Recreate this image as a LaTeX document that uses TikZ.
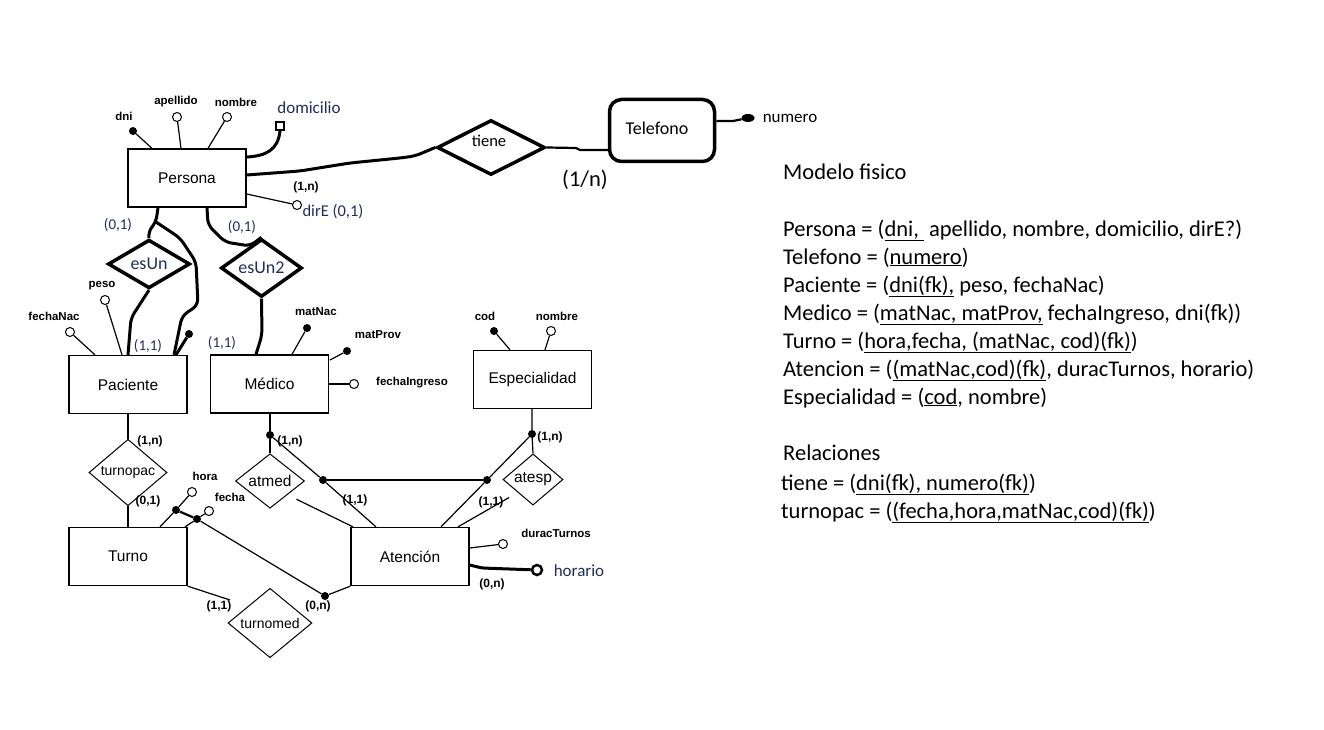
\documentclass[tikz,border=0pt]{standalone}
\usepackage{fontspec}
\setmainfont{Liberation Sans}
\newfontfamily\calfont{Carlito}
\usetikzlibrary{shapes.geometric}
\definecolor{labelblue}{RGB}{31,45,90}
\tikzset{
  entity/.style={draw,line width=1.3pt,minimum width=118pt,minimum height=58pt,font=\fontsize{15.5}{18}\selectfont},
  relation/.style={draw,diamond,line width=1pt,inner sep=0pt,font=\fontsize{14}{16}\selectfont},
  strongrel/.style={relation,line width=3.5pt,font=\calfont\fontsize{18}{21}\selectfont,text=labelblue},
  keyattr/.style={circle,fill,inner sep=0pt,minimum size=8pt},
  attr/.style={circle,draw,line width=1pt,fill=white,inner sep=0pt,minimum size=9pt},
  attrlabel/.style={font=\bfseries\fontsize{11.5}{13}\selectfont,inner sep=0pt},
  card/.style={font=\bfseries\fontsize{12}{14}\selectfont,inner sep=0pt},
  bluelabel/.style={font=\calfont\fontsize{17}{20}\selectfont,text=labelblue,inner sep=0pt},
  cardblue/.style={bluelabel,font=\calfont\fontsize{15}{18}\selectfont},
  link/.style={line width=1.2pt},
  thicklink/.style={line width=3pt,rounded corners=6pt},
  junction/.style={circle,fill,inner sep=0pt,minimum size=8pt},
  modeltext/.style={font=\calfont\fontsize{22.5}{27}\selectfont,anchor=base west,inner sep=0pt}
}
\begin{document}
\begin{tikzpicture}[x=1pt,y=-1pt]
%
\useasboundingbox (0,0) rectangle (1324,730);
%
% entidades
\node[entity] (persona) at (187,178) {Persona};
\node[draw,rounded corners=12pt,line width=3.5pt,minimum width=105pt,minimum height=62pt] (telefono) at (662,130.5) {};
\node[entity] (paciente) at (128,384.5) {Paciente};
\node[entity] (medico) at (269.5,384) {Médico};
\node[entity] (especialidad) at (532.5,379.5) {Especialidad};
\node[entity] (turno) at (128,556.5) {Turno};
\node[entity] (atencion) at (410,556.5) {Atención};
%
% relaciones
\node[strongrel,font=\calfont\fontsize{16.5}{19}\selectfont,text=black,minimum width=108pt,minimum height=55pt] (tiene) at (491,147.5) {};
\node[strongrel,minimum width=82pt,minimum height=43pt] (esUn) at (149,264) {esUn};
\node[strongrel,minimum width=81pt,minimum height=42pt] (esUn2) at (261.5,268) {esUn2};
\node[relation,minimum width=78pt,minimum height=59pt] (turnopac) at (128,472.5) {turnopac};
\node[relation,font=\fontsize{15.5}{18}\selectfont,minimum width=69pt,minimum height=48pt] (atmed) at (270,481) {atmed};
\node[relation,font=\fontsize{15.5}{18}\selectfont,minimum width=60pt,minimum height=45pt] (atesp) at (533,479.5) {atesp};
\node[relation,minimum width=84pt,minimum height=57pt] (turnomed) at (270,623) {turnomed};
%
% atributos
\node[keyattr] (dni) at (133,131) {};
\node[attr] (apellido) at (177,117) {};
\node[attr] (nombre) at (227,117) {};
\node[draw,line width=2pt,minimum size=8pt,inner sep=0pt] (domicilio) at (280,126) {};
\node[attr] (dirE) at (297,205) {};
\node[ellipse,fill,inner sep=0pt,minimum width=13pt,minimum height=8pt] (numero) at (748,118) {};
\node[keyattr] (pacdni) at (189,334) {};
\node[attr] (fechaNac) at (70,332) {};
\node[attr] (peso) at (105,300) {};
\node[keyattr] (matNac) at (307,328) {};
\node[keyattr] (matProv) at (347,351) {};
\node[attr] (fechaIngreso) at (354,384) {};
\node[keyattr] (cod) at (494,331) {};
\node[attr] (espnombre) at (551,331) {};
\node[attr] (duracTurnos) at (503,544) {};
\node[attr,line width=2.5pt,minimum size=10pt] (horario) at (537,570) {};
\node[attr] (hora) at (192,492) {};
\node[attr] (fecha) at (209,511) {};
%
% puntos de union
\node[junction] (jMed) at (270,435) {};
\node[junction] (jAtmed) at (323,480) {};
\node[junction] (jAtesp) at (487,480) {};
\node[junction] (jEsp) at (532,434) {};
\node[junction] (jHora) at (176,510) {};
\node[junction] (jFecha) at (197,519) {};
\node[junction] (jTurno) at (325,596) {};
\coordinate (split) at (156,222);
%
% lineas
\draw[link] (dni) -- (152,0 |- persona.north);
\draw[link] (apellido) -- (181,0 |- persona.north);
\draw[link] (nombre) -- (208,0 |- persona.north);
\draw[thicklink] (domicilio.south) .. controls (278,150) and (266,156) .. (persona.east |- 0,157);
\draw[link] (persona.east |- 0,194) -- (dirE);
\draw[thicklink] (persona.east |- 0,175) -- (300,171) -- (350,163) -- (400,158) -- (415,156) -- (tiene.west);
\draw[line width=2.2pt] (tiene.east) -- (576,148) -- (580,150) -- (telefono.west |- 0,150);
\draw[line width=2.2pt] (telefono.east |- 0,121) -- (733,121) -- (numero);
\draw[thicklink] (158,0 |- persona.south) -- (split) -- (148,232) -- (esUn.north);
\draw[thicklink] (split) -- (180,238) -- (196,262) -- (198,305) -- (182,316) -- (174,0 |- paciente.north);
\draw[thicklink] (esUn.south) -- (131,318) -- (128,0 |- paciente.north);
\draw[thicklink] (pacdni) -- (176,0 |- paciente.north);
\draw[thicklink] (207,0 |- persona.south) -- (208,225) -- (225,242) -- (250,246) -- (esUn2.north);
\draw[thicklink] (esUn2.south) -- (262,335) -- (256,0 |- medico.north);
\draw[link] (fechaNac) -- (95,0 |- paciente.north);
\draw[link] (peso) -- (122,0 |- paciente.north);
\draw[link] (matNac) -- (292,0 |- medico.north);
\draw[link] (matProv) -- (330,360);
\draw[link] (medico.east |- fechaIngreso) -- (fechaIngreso);
\draw[link] (cod) -- (510,0 |- especialidad.north);
\draw[link] (espnombre) -- (545,0 |- especialidad.north);
%
\draw[link] (paciente) -- (turnopac);
\draw[link] (turnopac) -- (turno);
\draw[link] (medico.south -| jMed) -- (jMed) -- (atmed.north);
\draw[link] (jMed) -- (jAtmed) -- (376,0 |- atencion.north);
\draw[line width=2.2pt] (jAtmed) -- (jAtesp);
\draw[link,shorten <=10pt] (atmed.south east) -- (353,0 |- atencion.north);
\draw[link] (especialidad.south -| jEsp) -- (jEsp) -- (atesp.north);
\draw[link] (jEsp) -- (jAtesp) -- (441,0 |- atencion.north);
\draw[link,shorten >=10pt] (458,0 |- atencion.north) -- (atesp.south west);
\draw[link] (atencion.east |- 0,548) -- (duracTurnos);
\draw[thicklink,rounded corners=3pt] (atencion.east |- 0,565) -- (482,568) -- (horario);
\draw[link] (160,0 |- turno.north) -- (jHora) -- (hora);
\draw[link] (185,0 |- turno.north) -- (jFecha) -- (fecha);
\draw[line width=2.2pt] (jHora) -- (jFecha);
\draw[link] (jFecha) -- (jTurno) -- (atencion.south west);
\draw[link] (turno.south east) -- (230,600);
%
% textos
\node[font=\calfont\fontsize{18}{21}\selectfont,inner sep=0pt] (ltelefono) at (657,128) {Telefono};
\node[font=\calfont\fontsize{16.5}{19}\selectfont,inner sep=0pt] (ltiene) at (489,141) {tiene};
\node[attrlabel] (ldni) at (124,116) {dni};
\node[attrlabel] (lapellido) at (176,102) {apellido};
\node[attrlabel] (lnombre) at (236,102) {nombre};
\node[bluelabel] (ldomicilio) at (309,108) {domicilio};
\node[bluelabel,font=\calfont\fontsize{16.5}{19}\selectfont] (ldirE) at (333,212) {dirE (0,1)};
\node[font=\calfont\fontsize{17}{20}\selectfont,inner sep=0pt] (lnumero) at (790,118) {numero};
\node[font=\calfont\fontsize{22.5}{26}\selectfont,inner sep=0pt] (ltel) at (585,180) {(1/n)};
\node[card] (cPersona) at (306,187) {(1,n)};
\node[cardblue] (cEsUn) at (118,225) {(0,1)};
\node[cardblue] (cEsUn2) at (242,227) {(0,1)};
\node[cardblue] (cPac) at (148,346) {(1,1)};
\node[cardblue] (cMed) at (222,343) {(1,1)};
\node[attrlabel] (lpeso) at (102,286) {peso};
\node[attrlabel] (lfechaNac) at (54,316) {fechaNac};
\node[attrlabel] (lmatNac) at (316,312) {matNac};
\node[attrlabel] (lmatProv) at (378,335) {matProv};
\node[attrlabel] (lfechaIngreso) at (412,383) {fechaIngreso};
\node[attrlabel] (lcod) at (485,316) {cod};
\node[attrlabel] (lespnombre) at (557,316) {nombre};
\node[card] (cTpac1) at (150,441) {(1,n)};
\node[card] (cTpac2) at (148,501) {(0,1)};
\node[attrlabel] (lhora) at (205,476) {hora};
\node[attrlabel] (lfecha) at (230,497) {fecha};
\node[card] (cAtmed1) at (290,441) {(1,n)};
\node[card] (cAtmed2) at (355,500) {(1,1)};
\node[card] (cAtesp1) at (550,437) {(1,n)};
\node[card] (cAtesp2) at (491,502) {(1,1)};
\node[attrlabel] (lduracTurnos) at (556,533) {duracTurnos};
\node[bluelabel] (lhorario) at (579,571) {horario};
\node[card] (cHorario) at (492,584) {(0,n)};
\node[card] (cTmed1) at (219,606) {(1,1)};
\node[card] (cTmed2) at (318,606) {(0,n)};
%
% modelo fisico
\node[modeltext] (titulo) at (783,179) {Modelo fisico};
\node[modeltext] (mPersona) at (783,236) {Persona = (\underline{dni,~}~apellido, nombre, domicilio, dirE?)};
\node[modeltext] (mTelefono) at (783,264) {Telefono = (\underline{numero})};
\node[modeltext] (mPaciente) at (783,292) {Paciente = (\underline{dni(fk),} peso, fechaNac)};
\node[modeltext] (mMedico) at (783,320) {Medico = (\underline{matNac, matProv,} fechaIngreso, dni(fk))};
\node[modeltext] (mTurno) at (783,348) {Turno = (\underline{hora,fecha, (matNac, cod)(fk)})};
\node[modeltext] (mAtencion) at (783,376) {Atencion = (\underline{(matNac,cod)(fk)}, duracTurnos, horario)};
\node[modeltext] (mEspecialidad) at (783,404) {Especialidad = (\underline{cod}, nombre)};
\node[modeltext] (relaciones) at (783,460) {Relaciones};
\node[modeltext] (rTiene) at (781,490) {tiene = (\underline{dni(fk), numero(fk)})};
\node[modeltext] (rTurnopac) at (781,518) {turnopac = (\underline{(fecha,hora,matNac,cod)(fk)})};
%
\end{tikzpicture}
\end{document}
